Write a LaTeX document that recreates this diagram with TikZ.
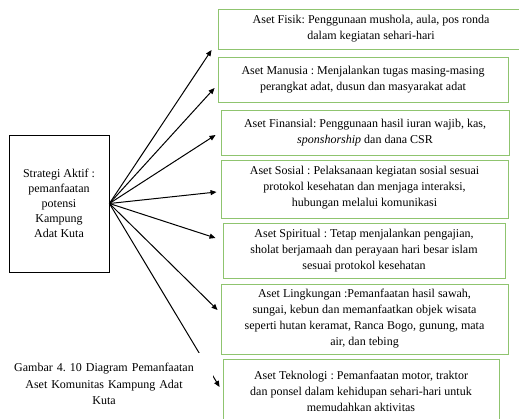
\documentclass[tikz,border=0pt]{standalone}
\usepackage{fontspec}
\setmainfont{Liberation Serif}
\usepackage{xcolor}
\usepackage{tikz}
\usetikzlibrary{arrows.meta, calc}
\definecolor{asetHijau}{HTML}{8FC46F}
\frenchspacing

\begin{document}
\begin{tikzpicture}[x=1pt, y=-1pt, every node/.style={font=\fontsize{12}{16}\selectfont},
  aset/.style={draw=asetHijau, line width=0.9pt, align=center, inner sep=0pt},
  panah/.style={-{Triangle[length=6pt, width=5pt]}, line width=1pt}]
\useasboundingbox (0,0) rectangle (519,419);
% left box
\node[draw, line width=0.8pt, minimum width=100pt, minimum height=137pt, align=center, inner sep=0pt,
  font=\fontsize{12}{15}\selectfont] (strategi) at (59,203.5)
  {Strategi Aktif :\\pemanfaatan\\potensi\\Kampung\\Adat Kuta};

% the seven assets
\node[aset, minimum width=306pt, minimum height=40pt] (fisik) at (371,29)
  {Aset Fisik: Penggunaan mushola, aula, pos ronda\\dalam kegiatan sehari-hari};
\node[aset, minimum width=290pt, minimum height=45pt] (manusia) at (363,79.5)
  {Aset Manusia : Menjalankan tugas masing-masing\\perangkat adat, dusun dan masyarakat adat};
\node[aset, minimum width=288pt, minimum height=45pt] (finansial) at (365,132.5)
  {Aset Finansial: Penggunaan hasil iuran wajib, kas,\\\textit{sponshorship} dan dana CSR};
\node[aset, minimum width=287pt, minimum height=58pt] (sosial) at (364.5,189)
  {Aset Sosial : Pelaksanaan kegiatan sosial sesuai\\protokol kesehatan dan menjaga interaksi,\\hubungan melalui komunikasi\\[-10pt]};
\node[aset, minimum width=282pt, minimum height=55pt] (spiritual) at (364,250.5)
  {Aset Spiritual : Tetap menjalankan pengajian,\\sholat berjamaah dan perayaan hari besar islam\\sesuai protokol kesehatan};
\node[aset, minimum width=287pt, minimum height=70pt] (lingkungan) at (364.5,319)
  {Aset Lingkungan :Pemanfaatan hasil sawah,\\sungai, kebun dan memanfaatkan objek wisata\\seperti hutan keramat, Ranca Bogo, gunung, mata\\air, dan tebing};
\node[aset, minimum width=276pt, minimum height=64pt] (teknologi) at (361,391)
  {Aset Teknologi : Pemanfaatan motor, traktor\\dan ponsel dalam kehidupan sehari-hari untuk\\memudahkan aktivitas};

% arrows
\draw[panah] (strategi.east) -- ($(fisik.west)+(-6,21)$);
\draw[panah] (strategi.east) -- ($(manusia.west)+(-3,8.5)$);
\draw[panah] (strategi.east) -- ($(finansial.west)+(-5,2.5)$);
\draw[panah] (strategi.east) -- ($(sosial.west)+(-4,3)$);
\draw[panah] (strategi.east) -- ($(spiritual.west)+(-7,-12.5)$);
\draw[panah] (strategi.east) -- ($(lingkungan.west)+(-3,-9)$);
\draw[panah] (strategi.east) -- ($(teknologi.west)+(-3,-4)$);

% caption
\node[fill=white, text width=190pt, align=center, inner xsep=13.5pt, minimum height=62pt,
  font=\fontsize{12}{16.5}\selectfont] (gambar) at (104,384)
  {Gambar 4. 10 Diagram Pemanfaatan\\Aset Komunitas Kampung Adat\\Kuta};
\end{tikzpicture}
\end{document}
